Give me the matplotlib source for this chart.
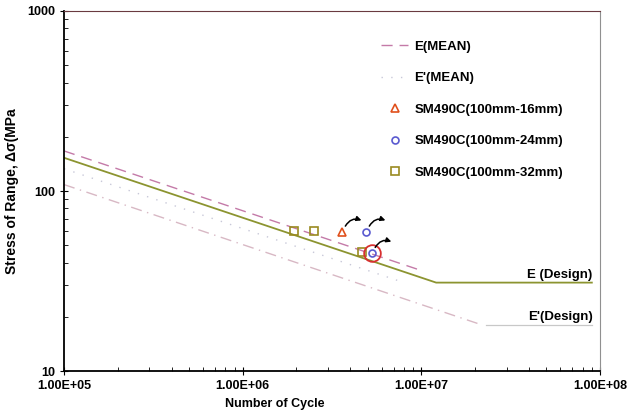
import matplotlib.pyplot as plt
import numpy as np

# S-N curves (N in cycles, stress in MPa)
e_design_n = [1e5, 1.21e7, 9e7]
e_design_s = [153, 31, 31]
e_mean_n = [1e5, 9.5e6]
e_mean_s = [167, 36.8]
ep_mean_n = [1e5, 8e6]
ep_mean_s = [133, 31.0]
ep_design_n = [1e5, 2.2e7]
ep_design_s = [108.6, 18]
ep_flat_n = [2.3e7, 9e7]
ep_flat_s = [18, 18]

# test data
sq_n = [1.95e6, 2.5e6, 4.67e6]
sq_s = [60, 60, 45.8]
tri_n = [3.62e6]
tri_s = [59.5]
dia_n = [4.93e6, 5.32e6]
dia_s = [59.5, 45.3]
circ_n = [5.32e6]
circ_s = [45.3]
runout_n = [3.62e6, 4.93e6, 5.32e6]
runout_s = [59.5, 59.5, 45.3]

plt.rcParams['font.family'] = ['Liberation Sans', 'DejaVu Sans']
plt.rcParams['font.weight'] = 'bold'

fig = plt.figure(figsize=(6.3, 4.16), dpi=100)
ax = fig.add_axes([0.1016, 0.108, 0.8508, 0.8656])

ax.plot(e_design_n, e_design_s, color='#8c9430', lw=1.3)
ax.plot(e_mean_n, e_mean_s, color='#c47aa8', lw=1.0, dashes=(8, 5), label='E(MEAN)')
ax.plot(ep_mean_n, ep_mean_s, color='#c8c8d8', lw=1.0, ls=(0, (1, 6)), label="E'(MEAN)")
ax.plot(ep_design_n, ep_design_s, color='#d8b8c4', lw=1.0, ls=(0, (8, 4, 1, 4)))
ax.plot(ep_flat_n, ep_flat_s, color='#c8c8c8', lw=0.9)

ax.plot(tri_n, tri_s, ls='none', marker='^', ms=5.5, mfc='none', mec='#e0501c', mew=1.2,
        label='SM490C(100mm-16mm)')
ax.plot(dia_n, dia_s, ls='none', marker='o', ms=5, mfc='none', mec='#5a5ad0', mew=1.2,
        label='SM490C(100mm-24mm)')
ax.plot(sq_n, sq_s, ls='none', marker='s', ms=5.5, mfc='none', mec='#9a8a20', mew=1.2,
        label='SM490C(100mm-32mm)')
ax.plot(circ_n, circ_s, ls='none', marker='o', ms=12, mfc='none', mec='#d83030', mew=1.3)

# run-out arrows
for n, s in zip(runout_n, runout_s):
    ax.annotate('', xy=(n * 1.32, s * 1.14), xytext=(n * 1.02, s * 1.04),
                arrowprops=dict(arrowstyle='-|>', color='black', lw=1.1,
                                mutation_scale=7,
                                connectionstyle='arc3,rad=-0.5'))

ax.text(9.1e7, 31.5, 'E (Design)', ha='right', va='bottom', fontsize=9.5, fontweight='bold')
ax.text(9.1e7, 18.4, "E'(Design)", ha='right', va='bottom', fontsize=9.5, fontweight='bold')

ax.set_xscale('log')
ax.set_yscale('log')
ax.set_xlim(1e5, 1e8)
ax.set_ylim(10, 1000)
ax.set_xticks([1e5, 1e6, 1e7, 1e8])
ax.set_xticklabels(['1.00E+05', '1.00E+06', '1.00E+07', '1.00E+08'])
ax.set_yticks([10, 100, 1000])
ax.set_yticklabels(['10', '100', '1000'])
ax.tick_params(which='major', direction='inout', length=6, labelsize=9)
ax.tick_params(which='minor', direction='in', length=3)
for lab in ax.get_xticklabels() + ax.get_yticklabels():
    lab.set_fontweight('bold')

ax.spines['top'].set_color('#6a3a40')
ax.spines['right'].set_color('#909090')
ax.spines['left'].set_linewidth(1.3)
ax.spines['bottom'].set_linewidth(1.3)

ax.set_xlabel('Number of Cycle', fontsize=9, fontweight='bold', labelpad=6)
ax.xaxis.set_label_coords(0.393, -0.075)
ax.set_ylabel('Stress of Range, Δσ(MPa', fontsize=10, fontweight='bold', labelpad=6)

ax.legend(loc='upper left', bbox_to_anchor=(0.57, 0.95), frameon=False,
          labelspacing=1.45, handlelength=2.0, handletextpad=0.5,
          prop={'weight': 'bold', 'size': 9.5})

fig.savefig('out.png', dpi=100)
